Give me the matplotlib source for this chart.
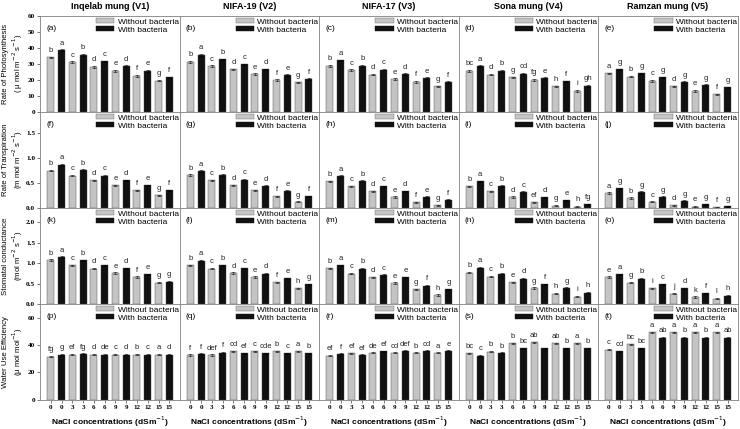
import matplotlib.pyplot as plt
import numpy as np

# ---- data ----
conc_labels = ["0", "0", "3", "3", "6", "6", "9", "9", "12", "12", "15", "15"]
varieties = ["Inqelab mung (V1)", "NIFA-19 (V2)", "NIFA-17 (V3)", "Sona mung (V4)", "Ramzan mung (V5)"]
series_names = ["Without bacteria", "With bacteria"]

# bars alternate: without / with bacteria at each NaCl level
photo = [
  [34, 38.5, 31, 35.5, 28, 31.5, 25.5, 28.5, 22.5, 25.5, 19.5, 21.5],
  [31.3, 35.5, 28.5, 32.8, 26.6, 29.7, 23.5, 26.6, 19.8, 22.9, 18.4, 20.4],
  [28.7, 32.2, 26, 28.7, 23.3, 26.4, 20.4, 23.5, 18.8, 21, 15.9, 18.6],
  [25.6, 28.5, 23.3, 25.6, 21.6, 23.9, 20, 21, 15.9, 19, 13, 16.3],
  [24.1, 26.6, 22, 24.1, 19.4, 21.6, 15.9, 18.6, 13, 16.7, 10.9, 15.3],
]
photo_letters = [
  "b a c b d c e d f e g f",
  "b a c b d c e d f e g f",
  "b a c b d c e d f e g f",
  "bc a d b g cd fg e h f i gh",
  "a g b g c g d g e g f g",
]

transp = [
  [0.75, 0.87, 0.65, 0.76, 0.55, 0.65, 0.45, 0.55, 0.35, 0.45, 0.25, 0.35],
  [0.66, 0.74, 0.55, 0.66, 0.45, 0.57, 0.35, 0.44, 0.23, 0.34, 0.12, 0.23],
  [0.53, 0.64, 0.43, 0.54, 0.33, 0.43, 0.22, 0.33, 0.11, 0.22, 0.05, 0.16],
  [0.43, 0.53, 0.33, 0.44, 0.22, 0.32, 0.11, 0.21, 0.04, 0.15, 0.02, 0.07],
  [0.30, 0.39, 0.20, 0.32, 0.12, 0.22, 0.05, 0.14, 0.02, 0.07, 0.01, 0.03],
]
transp_letters = [
  "b a c b d c e d f e g f",
  "b a c b d c e d f e g f",
  "b a c b d c e d f e g f",
  "b a c b d c ef d g e h fg",
  "a g b g c g d g e g f g",
]

stomatal = [
  [1.08, 1.15, 0.95, 1.07, 0.86, 0.95, 0.76, 0.87, 0.66, 0.73, 0.52, 0.54],
  [0.95, 1.06, 0.86, 0.95, 0.76, 0.87, 0.66, 0.74, 0.53, 0.63, 0.38, 0.48],
  [0.87, 0.95, 0.74, 0.86, 0.65, 0.71, 0.51, 0.65, 0.36, 0.45, 0.22, 0.36],
  [0.77, 0.89, 0.67, 0.74, 0.53, 0.62, 0.39, 0.48, 0.25, 0.39, 0.18, 0.27],
  [0.66, 0.73, 0.52, 0.62, 0.38, 0.48, 0.25, 0.38, 0.17, 0.26, 0.13, 0.20],
]
stomatal_letters = [
  "b a c b d c e d f e g g",
  "b a c b d c e d f e h g",
  "b a c b d c e e g f h g",
  "b a c b e d g f h g i h",
  "e a g b i c j d k f l h",
]

wue = [
  [31.5, 33, 33, 33.5, 33, 33, 33, 33, 33, 33, 33, 33],
  [32.7, 33.5, 32.7, 34.5, 35.5, 34, 35.5, 34, 35.5, 34, 35.5, 34],
  [32.3, 33.5, 34, 32.8, 34.2, 35.5, 34.2, 35.7, 34.2, 35.7, 34.2, 35.7],
  [34, 32.3, 35.2, 34.2, 41.4, 37.5, 41.9, 37.5, 41.4, 37.5, 41.4, 37.5],
  [36.5, 35.5, 40.4, 37.7, 49.4, 45.4, 49.4, 45.4, 49.4, 45.4, 49.4, 45.4],
]
wue_letters = [
  "fg g ef fg d de c d b c a d",
  "f f def f cd ef c cde b c a b",
  "ef f ef ef de ef cd def b cd a e",
  "bc c b b b bc ab - ab b a b",
  "c cd bc bc a ab a b a b a ab",
]

rows = [
  (photo, photo_letters, 0.5, (0, 60), [0, 10, 20, 30, 40, 50, 60], "{:.0f}",
   "Rate of Photosynthesis\n( \u03bc mol m$^{-2}$ s$^{-1}$)"),
  (transp, transp_letters, 0.012, (0, 1.93), [0.0, 0.5, 1.0, 1.5], "{:.1f}",
   "Rate of Transpiration\n(m mol m$^{-2}$ s$^{-1}$)"),
  (stomatal, stomatal_letters, 0.015, (0, 2.36), [0.0, 0.5, 1.0, 1.5, 2.0], "{:.1f}",
   "Stomatal conductance\n(mol m$^{-2}$ s$^{-1}$)"),
  (wue, wue_letters, 0.4, (0, 70), [0, 20, 40, 60], "{:.0f}",
   "Water Use Efficiency\n(\u03bc mol mol$^{-1}$)"),
]

sans = ["Liberation Sans Narrow", "Liberation Sans", "DejaVu Sans"]
serif = ["Liberation Serif", "DejaVu Serif"]
plt.rcParams["font.family"] = sans

gray_c = "#c4c4c4"
black_c = "#111111"
frame_c = "#808080"

fig, axes = plt.subplots(4, 5, figsize=(7.4, 4.29), dpi=100, sharex=True)
fig.subplots_adjust(left=0.054, right=0.997, top=0.963, bottom=0.068, wspace=0, hspace=0)

x = np.arange(len(conc_labels))
colors = [gray_c if i % 2 == 0 else black_c for i in range(len(x))]
panel_tags = "abcdefghijklmnopqrst"

for r, (data, letters, err, ylim, yticks, fmt, ylabel) in enumerate(rows):
  for c in range(5):
    ax = axes[r, c]
    vals = data[c]
    ax.bar(x, vals, width=0.65, color=colors, edgecolor="#444444", linewidth=0.3,
           yerr=err, error_kw=dict(elinewidth=0.4, capsize=1.2, capthick=0.4, ecolor="black"))
    for xi, v, lab in zip(x, vals, letters[c].split()):
      if lab == "-":
        continue
      ax.annotate(lab, (xi, v + err), xytext=(0, 2), textcoords="offset points",
                  ha="center", va="bottom", fontsize=5.5, color="#222222")

    ax.set_ylim(*ylim)
    ax.set_xlim(-1.0, 11.95)
    for sp in ax.spines.values():
      sp.set_color(frame_c)
      sp.set_linewidth(0.6)

    # panel tag
    ax.text(0.045, 0.9, "(" + panel_tags[r * 5 + c] + ")", transform=ax.transAxes,
            fontsize=6, va="top", ha="left")

    # legend patches (drawn in every panel)
    h1 = plt.Rectangle((0, 0), 1, 1, facecolor=gray_c, edgecolor="#666666", linewidth=0.3)
    h2 = plt.Rectangle((0, 0), 1, 1, facecolor=black_c, edgecolor=black_c, linewidth=0.3)
    ax.legend([h1, h2], series_names, loc="upper right", bbox_to_anchor=(1.03, 1.03),
              frameon=False, fontsize=6, handlelength=2.2, handleheight=0.6,
              handletextpad=0.4, labelspacing=0.05, borderaxespad=0.2)

    if c == 0:
      ax.set_yticks(yticks)
      ax.set_yticklabels([fmt.format(t) for t in yticks], family=serif,
                         fontweight="bold", fontsize=5.2)
      ax.tick_params(axis="y", length=2, width=0.5, pad=1.5, color="#444444")
      ax.set_ylabel(ylabel, fontsize=5.6, linespacing=1.1)
      ax.yaxis.set_label_coords(-0.108, 0.5)
    else:
      ax.set_yticks([])

    if r == 3:
      ax.set_xticks(x)
      ax.set_xticklabels(conc_labels, family=serif, fontweight="bold", fontsize=5)
      ax.tick_params(axis="x", length=2, width=0.5, pad=2, color="#444444")
      ax.set_xlabel("NaCl concentrations (dSm$^{-1}$)", fontsize=6, fontweight="bold", labelpad=3)
    else:
      ax.tick_params(axis="x", length=0)

    if r == 0:
      ax.set_title(varieties[c], fontsize=6.5, fontweight="bold", pad=5)

plt.savefig("out.png", dpi=100)
plt.close()
